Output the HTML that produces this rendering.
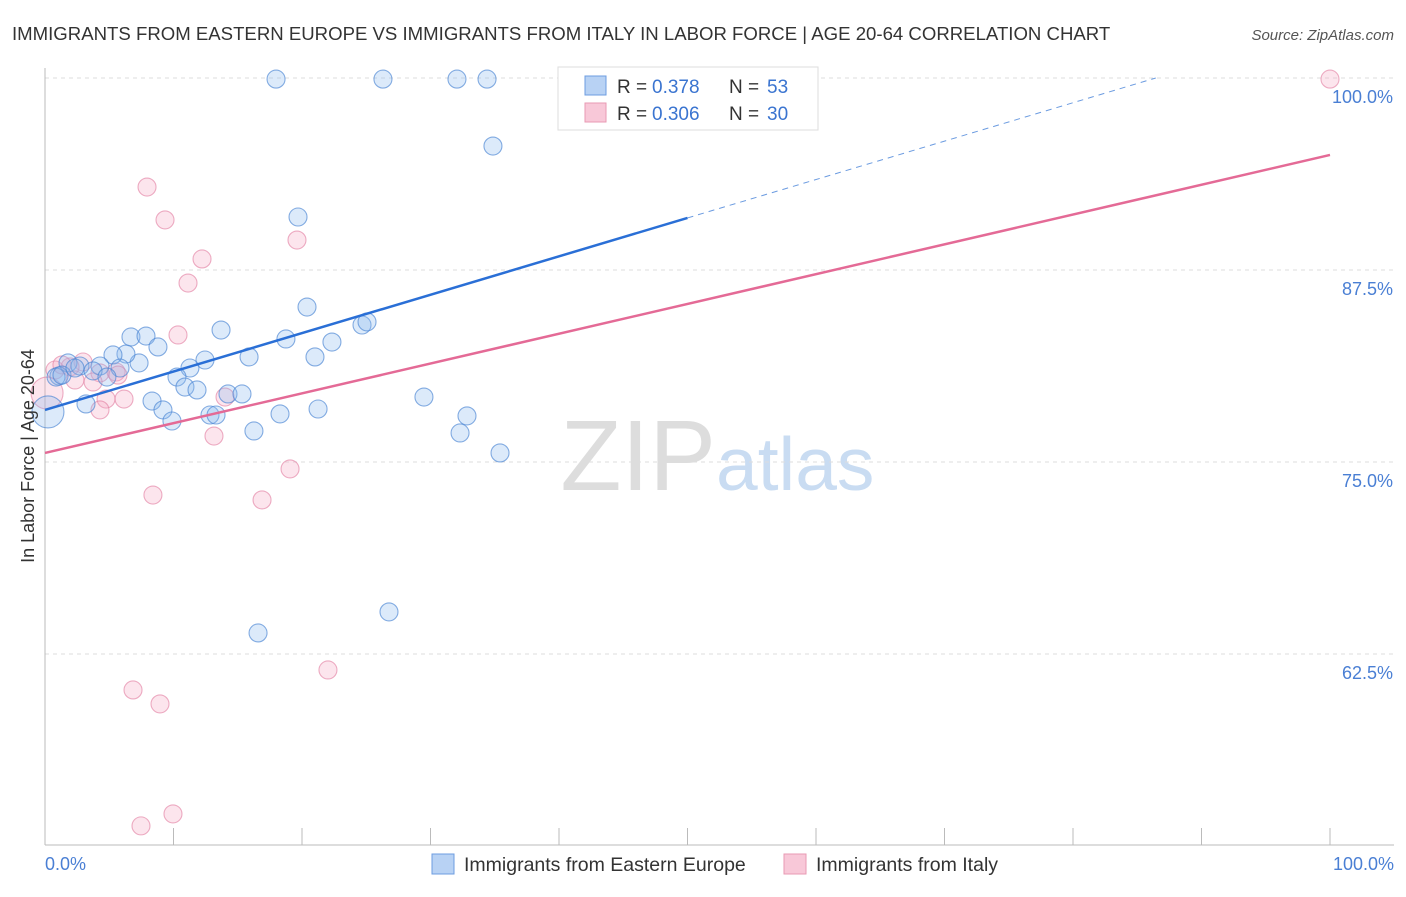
<!DOCTYPE html>
<html><head><meta charset="utf-8"><style>
body{margin:0;background:#fff;font-family:"Liberation Sans",sans-serif;}
svg text{font-family:"Liberation Sans",sans-serif;}
</style></head><body>
<svg id="chart" width="1406" height="892">
<text x="12" y="40" font-size="18.6" fill="#333">IMMIGRANTS FROM EASTERN EUROPE VS IMMIGRANTS FROM ITALY IN LABOR FORCE | AGE 20-64 CORRELATION CHART</text>
<text x="1394" y="40" font-size="15" fill="#555" font-style="italic" text-anchor="end">Source: ZipAtlas.com</text>
<text x="716" y="490" font-size="100" fill="#ddd" font-family="Liberation Serif" text-anchor="end">ZIP</text>
<text x="716" y="490" font-size="75" fill="#c9dcf2">atlas</text>
<g id="grid"></g><g id="axes"></g><g id="pts"></g><g id="lines"></g>
<text transform="translate(34,456) rotate(-90)" font-size="18" fill="#333" text-anchor="middle">In Labor Force | Age 20-64</text>
<text x="45" y="870" font-size="18" fill="#4a7fd4">0.0%</text>
<text x="1394" y="870" font-size="18" fill="#4a7fd4" text-anchor="end">100.0%</text>
<g>
<rect x="558" y="67" width="260" height="63" fill="#fff" stroke="#ddd"/>
<rect x="585" y="76" width="21" height="19" fill="#b8d2f4" stroke="#6d9ce0"/>
<text x="617" y="93" font-size="19" fill="#333">R =</text>
<text x="652" y="93" font-size="19" fill="#3a74d0">0.378</text>
<text x="729" y="93" font-size="19" fill="#333">N =</text>
<text x="767" y="93" font-size="19" fill="#3a74d0">53</text>
<rect x="585" y="103" width="21" height="19" fill="#f8c8d8" stroke="#e89ab3"/>
<text x="617" y="120" font-size="19" fill="#333">R =</text>
<text x="652" y="120" font-size="19" fill="#3a74d0">0.306</text>
<text x="729" y="120" font-size="19" fill="#333">N =</text>
<text x="767" y="120" font-size="19" fill="#3a74d0">30</text>
</g>
<g>
<rect x="432" y="854" width="22" height="20" fill="#b8d2f4" stroke="#6d9ce0"/>
<text x="464" y="871" font-size="19.5" fill="#333">Immigrants from Eastern Europe</text>
<rect x="784" y="854" width="22" height="20" fill="#f8c8d8" stroke="#e89ab3"/>
<text x="816" y="871" font-size="19.5" fill="#333">Immigrants from Italy</text>
</g>
</svg>
<script>
const yTicks=[100,87.5,75,62.5];
const yTickLabels=["100.0%","87.5%","75.0%","62.5%"];
const xTicks=[0,10,20,30,40,50,60,70,80,90,100];
const blueX=[17.98,26.3,32.06,34.4,34.86,19.69,20.39,24.67,25.06,13.7,6.69,7.86,8.79,18.75,22.33,21.01,15.88,12.45,11.28,7.32,6.3,5.29,1.79,2.72,4.28,3.74,5.84,1.09,4.82,10.27,10.89,11.83,14.24,15.33,8.33,3.19,9.18,9.88,12.84,13.31,18.29,21.25,29.49,32.84,32.3,16.26,35.41,16.58,26.77,0.23,0.86,1.32,2.33];
const blueY=[99.93,99.93,99.93,99.93,95.57,90.95,85.09,83.92,84.12,83.59,83.14,83.2,82.49,83.01,82.81,81.84,81.84,81.64,81.12,81.45,82.03,81.97,81.45,81.25,81.25,80.93,81.12,80.6,80.53,80.53,79.88,79.69,79.43,79.43,78.97,78.78,78.39,77.67,78.06,78.06,78.13,78.45,79.23,78.0,76.89,77.02,75.59,63.87,65.24,78.26,80.53,80.66,81.12];
const blueBig=[49];
const pinkX=[100,7.94,9.34,19.61,12.22,11.13,10.35,2.96,1.95,4.28,5.53,0.78,2.33,3.74,4.75,6.15,4.28,14.01,13.15,19.07,8.4,16.89,22.02,6.85,8.95,7.47,9.96,0.16,5.68,1.32];
const pinkY=[99.93,92.9,90.76,89.45,88.22,86.65,83.27,81.51,81.19,80.8,80.86,80.99,80.34,80.21,79.1,79.1,78.39,79.23,76.69,74.55,72.85,72.53,61.46,60.16,59.25,51.31,52.09,79.49,80.66,81.32];
const pinkBig=[27];
const blueTrend=[78.39,90.89];
const pinkTrend=[75.59,94.99];
const NS="http://www.w3.org/2000/svg";
const X=v=>45+v*12.85;
const Y=v=>78+(100-v)/12.5*192;
function mk(t,a,p){const e=document.createElementNS(NS,t);for(const k in a)e.setAttribute(k,a[k]);p.appendChild(e);return e;}
const grid=document.getElementById('grid'),axes=document.getElementById('axes'),pts=document.getElementById('pts'),lines=document.getElementById('lines');
yTicks.forEach((t,i)=>{
 const l=mk('line',{x1:45,x2:1394,y1:Y(t),y2:Y(t),stroke:'#ddd','stroke-dasharray':'4,4'},grid);
 
 
 const tx=mk('text',{x:1393,y:Y(t)+25,'font-size':18,fill:'#4a7fd4','text-anchor':'end'},grid);
 tx.textContent=yTickLabels[i];
 
 
});
const ya=mk('line',{x1:45,x2:45,y1:68,y2:845,stroke:'#bbb'},axes);


const xa=mk('line',{x1:45,x2:1394,y1:845,y2:845,stroke:'#bbb'},axes);


xTicks.forEach(t=>{
 const l=mk('line',{x1:X(t),x2:X(t),y1:828,y2:845,stroke:'#bbb'},axes);
 
 
});
function dots(xs,ys,big,fill,stroke,name){
 xs.forEach((v,i)=>{
  const c=mk('circle',{cx:X(v),cy:Y(ys[i]),r:big.includes(i)?16:9,fill:fill,stroke:stroke,'stroke-width':1.1},pts);
  
  
 });
}
dots(pinkX,pinkY,pinkBig,'rgba(244,170,195,0.3)','rgba(228,130,165,0.65)','point-italy');
dots(blueX,blueY,blueBig,'rgba(140,185,240,0.3)','rgba(70,130,210,0.65)','point-eastern-europe');
const bs=(blueTrend[1]-blueTrend[0])/50;
const xEnd=(100-blueTrend[0])/bs;
const b1=mk('line',{x1:X(0),y1:Y(blueTrend[0]),x2:X(50),y2:Y(blueTrend[1]),stroke:'#2a6fd6','stroke-width':2.5},lines);


const b2=mk('line',{x1:X(50),y1:Y(blueTrend[1]),x2:X(xEnd),y2:Y(100),stroke:'#6b9be0','stroke-width':1,'stroke-dasharray':'6,5'},lines);


const p1=mk('line',{x1:X(0),y1:Y(pinkTrend[0]),x2:X(100),y2:Y(pinkTrend[1]),stroke:'#e46a96','stroke-width':2.5},lines);


</script>
</body></html>
